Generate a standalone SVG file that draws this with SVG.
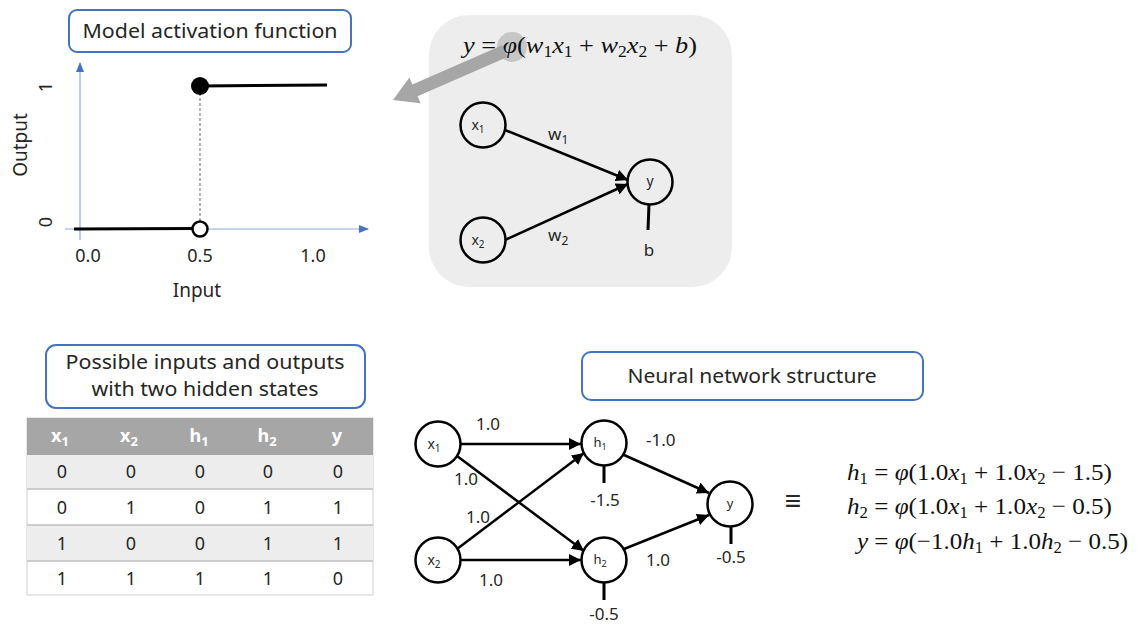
<svg xmlns="http://www.w3.org/2000/svg" width="1137" height="625" viewBox="0 0 1137 625">
<style>
.lbl{fill:#fff;stroke:#4472C4;stroke-width:2}
.t{font-family:"Noto Sans","Liberation Sans",sans-serif;fill:#262626}
.m{font-family:"Liberation Serif",serif;fill:#111;font-size:24px}
.i{font-style:italic}
.node{fill:#fff;stroke:#000;stroke-width:2.5}
.nodeg{fill:#EDEDED;stroke:#000;stroke-width:2.5}
.edge{stroke:#000;stroke-width:2.5;fill:none;marker-end:url(#ah)}
.bias{stroke:#000;stroke-width:3}
.ax{stroke:#8FAADC;stroke-width:1.2;marker-end:url(#axh)}
.th{font-family:"Noto Sans","Liberation Sans",sans-serif;fill:#fff;font-weight:bold;font-size:18px}
.td{font-family:"Noto Sans","Liberation Sans",sans-serif;fill:#262626;font-size:18px}
</style>
<defs>
<marker id="ah" markerWidth="12" markerHeight="12" refX="10" refY="5" orient="auto" markerUnits="userSpaceOnUse" viewBox="0 0 10 10"><path d="M0,0 L10,5 L0,10 z" fill="#000"/></marker>
<marker id="axh" markerWidth="10" markerHeight="10" refX="9" refY="5" orient="auto" markerUnits="userSpaceOnUse" viewBox="0 0 10 10"><path d="M0,1 L10,5 L0,9 z" fill="#4472C4"/></marker>
</defs>
<rect width="1137" height="625" fill="#fff"/>

<!-- Top-left: activation function plot -->
<g id="label-activation">
<rect class="lbl" x="69" y="10" width="282" height="42" rx="8"/>
<text class="t" x="210" y="38" font-size="19" text-anchor="middle" textLength="255" lengthAdjust="spacingAndGlyphs">Model activation function</text>
</g>
<g id="plot">
<line class="ax" x1="80" y1="240" x2="80" y2="63"/>
<line class="ax" x1="65" y1="229" x2="368" y2="229"/>
<line x1="200" y1="88" x2="200" y2="222" stroke="#808080" stroke-width="1.2" stroke-dasharray="3,2"/>
<line x1="74" y1="229" x2="193" y2="228.5" stroke="#000" stroke-width="3"/>
<line x1="200" y1="86" x2="327" y2="85" stroke="#000" stroke-width="3"/>
<circle cx="200" cy="86" r="9" fill="#000"/>
<circle cx="200" cy="229" r="7.5" fill="#fff" stroke="#000" stroke-width="2.5"/>
<text class="t" x="88" y="262" font-size="18" text-anchor="middle">0.0</text>
<text class="t" x="200" y="262" font-size="18" text-anchor="middle">0.5</text>
<text class="t" x="313" y="262" font-size="18" text-anchor="middle">1.0</text>
<text class="t" x="197" y="297" font-size="19" text-anchor="middle">Input</text>
<text class="t" transform="translate(27,145) rotate(-90)" font-size="19" text-anchor="middle">Output</text>
<text class="t" transform="translate(52,87) rotate(-90)" font-size="18" text-anchor="middle">1</text>
<text class="t" transform="translate(52,222) rotate(-90)" font-size="18" text-anchor="middle">0</text>
</g>

<!-- Top-right: single neuron -->
<g id="neuron-panel">
<rect x="429" y="15" width="303" height="272" rx="40" fill="#EDEDED"/>
<circle cx="512" cy="47" r="15" fill="#BFBFBF" opacity="0.85"/>
<text class="m" x="463" y="53" textLength="234" lengthAdjust="spacingAndGlyphs"><tspan class="i">y</tspan> = <tspan class="i">φ</tspan>(<tspan class="i">w</tspan><tspan font-size="16" dy="4">1</tspan><tspan class="i" dy="-4">x</tspan><tspan font-size="16" dy="4">1</tspan><tspan dy="-4"> + </tspan><tspan class="i">w</tspan><tspan font-size="16" dy="4">2</tspan><tspan class="i" dy="-4">x</tspan><tspan font-size="16" dy="4">2</tspan><tspan dy="-4"> + </tspan><tspan class="i">b</tspan>)</text>
</g>
<g id="big-arrow">
<polygon transform="translate(393,100) rotate(-23.6)" points="0,0 24,-14 24,-6.5 122,-6.5 122,6.5 24,6.5 24,14" fill="#A6A6A6"/>
</g>
<g id="n-x1"><circle class="nodeg" cx="483" cy="125" r="22.5"/><text class="t" x="478" y="130" font-size="14" text-anchor="middle">x<tspan font-size="10" dy="3">1</tspan></text></g>
<g id="n-x2"><circle class="nodeg" cx="483" cy="240" r="22.5"/><text class="t" x="478" y="245" font-size="14" text-anchor="middle">x<tspan font-size="10" dy="3">2</tspan></text></g>
<g id="n-y"><circle class="nodeg" cx="650" cy="182" r="22.5"/><text class="t" x="650" y="186" font-size="14" text-anchor="middle">y</text></g>
<g id="connectors-top">
<line class="edge" x1="505" y1="130" x2="628" y2="180"/>
<line class="edge" x1="505" y1="240" x2="628" y2="184"/>
<line class="bias" x1="649" y1="204" x2="648" y2="230"/>
<text class="t" x="548" y="140" font-size="17">w<tspan font-size="12" dy="4">1</tspan></text>
<text class="t" x="548" y="241" font-size="17">w<tspan font-size="12" dy="4">2</tspan></text>
<text class="t" x="649" y="256" font-size="17" text-anchor="middle">b</text>
</g>

<!-- Bottom-left: table -->
<g id="label-table">
<rect class="lbl" x="46" y="345" width="319" height="63" rx="10"/>
<text class="t" x="205" y="369" font-size="19" text-anchor="middle" textLength="279" lengthAdjust="spacingAndGlyphs">Possible inputs and outputs</text>
<text class="t" x="205" y="396" font-size="19" text-anchor="middle" textLength="227" lengthAdjust="spacingAndGlyphs">with two hidden states</text>
</g>
<g id="table">
<rect x="27" y="418" width="346" height="177" fill="#fff" stroke="#D0D0D0" stroke-width="1"/>
<rect x="27" y="418" width="346" height="37" fill="#A6A6A6"/>
<rect x="27" y="455" width="346" height="34" fill="#EDEDED"/>
<rect x="27" y="525" width="346" height="36" fill="#EDEDED"/>
<line x1="27" y1="489" x2="373" y2="489" stroke="#BFBFBF" stroke-width="1.5"/>
<line x1="27" y1="525" x2="373" y2="525" stroke="#BFBFBF" stroke-width="1.5"/>
<line x1="27" y1="561" x2="373" y2="561" stroke="#BFBFBF" stroke-width="1.5"/>
<text class="th" x="60" y="442" text-anchor="middle">x<tspan font-size="13" dy="4">1</tspan></text>
<text class="th" x="129" y="442" text-anchor="middle">x<tspan font-size="13" dy="4">2</tspan></text>
<text class="th" x="199" y="442" text-anchor="middle">h<tspan font-size="13" dy="4">1</tspan></text>
<text class="th" x="267" y="442" text-anchor="middle">h<tspan font-size="13" dy="4">2</tspan></text>
<text class="th" x="337" y="442" text-anchor="middle">y</text>
<g class="td" text-anchor="middle">
<text x="62" y="478">0</text><text x="131" y="478">0</text><text x="200" y="478">0</text><text x="268" y="478">0</text><text x="338" y="478">0</text>
<text x="62" y="514">0</text><text x="131" y="514">1</text><text x="200" y="514">0</text><text x="268" y="514">1</text><text x="338" y="514">1</text>
<text x="62" y="550">1</text><text x="131" y="550">0</text><text x="200" y="550">0</text><text x="268" y="550">1</text><text x="338" y="550">1</text>
<text x="62" y="585">1</text><text x="131" y="585">1</text><text x="200" y="585">1</text><text x="268" y="585">1</text><text x="338" y="585">0</text>
</g>
</g>

<!-- Bottom-right: network -->
<g id="label-network">
<rect class="lbl" x="582" y="352" width="341" height="48" rx="9"/>
<text class="t" x="752" y="383" font-size="19" text-anchor="middle" textLength="249" lengthAdjust="spacingAndGlyphs">Neural network structure</text>
</g>
<g id="nn-x1"><circle class="node" cx="438" cy="444" r="22.5"/><text class="t" x="434" y="449" font-size="14" text-anchor="middle">x<tspan font-size="10" dy="3">1</tspan></text></g>
<g id="nn-x2"><circle class="node" cx="438" cy="560" r="22.5"/><text class="t" x="434" y="565" font-size="14" text-anchor="middle">x<tspan font-size="10" dy="3">2</tspan></text></g>
<g id="nn-h1"><circle class="node" cx="604" cy="443" r="22.5"/><text class="t" x="600" y="447" font-size="13" text-anchor="middle">h<tspan font-size="9" dy="3">1</tspan></text></g>
<g id="nn-h2"><circle class="node" cx="604" cy="560" r="22.5"/><text class="t" x="600" y="564" font-size="13" text-anchor="middle">h<tspan font-size="9" dy="3">2</tspan></text></g>
<g id="nn-y"><circle class="node" cx="730" cy="504" r="22.5"/><text class="t" x="730" y="508" font-size="13" text-anchor="middle">y</text></g>
<g id="connectors-network">
<line class="edge" x1="461" y1="444" x2="581" y2="444"/>
<line class="edge" x1="457" y1="456" x2="584" y2="551"/>
<line class="edge" x1="457" y1="549" x2="584" y2="453"/>
<line class="edge" x1="461" y1="560" x2="581" y2="560"/>
<line class="edge" x1="624" y1="455" x2="709" y2="493"/>
<line class="edge" x1="624" y1="549" x2="709" y2="515"/>
<line class="bias" x1="604" y1="466" x2="604" y2="483"/>
<line class="bias" x1="604" y1="583" x2="604" y2="600"/>
<line class="bias" x1="731" y1="527" x2="731" y2="544"/>
<g class="t" font-size="17">
<text x="476" y="430">1.0</text>
<text x="454" y="485">1.0</text>
<text x="466" y="523">1.0</text>
<text x="479" y="586">1.0</text>
<text x="646" y="446">-1.0</text>
<text x="646" y="566">1.0</text>
<text x="605" y="506" text-anchor="middle">-1.5</text>
<text x="604" y="620" text-anchor="middle">-0.5</text>
<text x="731" y="563" text-anchor="middle">-0.5</text>
</g>
</g>

<!-- Equations -->
<g id="equations">
<text class="t" x="793" y="510" font-size="28" text-anchor="middle">≡</text>
<text class="m" x="847" y="480" textLength="265" lengthAdjust="spacingAndGlyphs"><tspan class="i">h</tspan><tspan font-size="16" dy="4">1</tspan><tspan dy="-4"> = </tspan><tspan class="i">φ</tspan>(1.0<tspan class="i">x</tspan><tspan font-size="16" dy="4">1</tspan><tspan dy="-4"> + 1.0</tspan><tspan class="i">x</tspan><tspan font-size="16" dy="4">2</tspan><tspan dy="-4"> − 1.5)</tspan></text>
<text class="m" x="847" y="514" textLength="265" lengthAdjust="spacingAndGlyphs"><tspan class="i">h</tspan><tspan font-size="16" dy="4">2</tspan><tspan dy="-4"> = </tspan><tspan class="i">φ</tspan>(1.0<tspan class="i">x</tspan><tspan font-size="16" dy="4">1</tspan><tspan dy="-4"> + 1.0</tspan><tspan class="i">x</tspan><tspan font-size="16" dy="4">2</tspan><tspan dy="-4"> − 0.5)</tspan></text>
<text class="m" x="857" y="549" textLength="271" lengthAdjust="spacingAndGlyphs"><tspan class="i">y</tspan> = <tspan class="i">φ</tspan>(−1.0<tspan class="i">h</tspan><tspan font-size="16" dy="4">1</tspan><tspan dy="-4"> + 1.0</tspan><tspan class="i">h</tspan><tspan font-size="16" dy="4">2</tspan><tspan dy="-4"> − 0.5)</tspan></text>
</g>
</svg>
